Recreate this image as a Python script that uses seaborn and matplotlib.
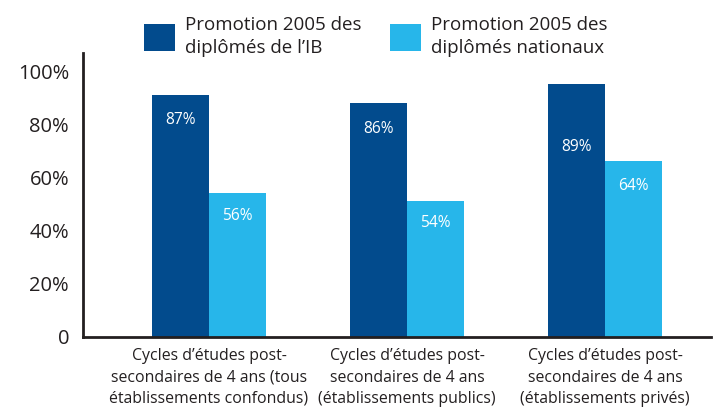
import matplotlib
matplotlib.use("Agg")
import matplotlib.pyplot as plt
from matplotlib.patches import Patch
import seaborn as sns
import pandas as pd

# ---- data ----
categories = [
    "Cycles d’études post-\nsecondaires de 4 ans (tous\nétablissements confondus)",
    "Cycles d’études post-\nsecondaires de 4 ans\n(établissements publics)",
    "Cycles d’études post-\nsecondaires de 4 ans\n(établissements privés)",
]
series = ["Promotion 2005 des\ndiplômés de l’IB", "Promotion 2005 des\ndiplômés nationaux"]
# bar heights as drawn in the picture (measured against the axis)
ib_heights = [91, 88, 95]
nat_heights = [54, 51, 66]
# printed labels on bars
ib_labels = ["87%", "86%", "89%"]
nat_labels = ["56%", "54%", "64%"]
yticks = [0, 20, 40, 60, 80, 100]
ytick_labels = ["0", "20%", "40%", "60%", "80%", "100%"]

df = pd.DataFrame({
    "cat": categories * 2,
    "series": [series[0]] * 3 + [series[1]] * 3,
    "value": ib_heights + nat_heights,
})

DARK = "#024B8D"
LIGHT = "#27B6EA"
TXT = "#231F20"

sns.set_theme(style="white")
plt.rcParams["font.family"] = ["Open Sans", "DejaVu Sans"]

fig = plt.figure(figsize=(7.28, 4.09), dpi=100)
ax = fig.add_axes([83 / 728, 1 - 337 / 409, (711 - 83) / 728, (337 - 53) / 409])

sns.barplot(data=df, x="cat", y="value", hue="series", palette=[DARK, LIGHT],
            width=0.576, saturation=1, linewidth=0, ax=ax, legend=False)

ax.set_xlim(-0.636, 2.535)
ax.set_ylim(0, 106.8)
ax.set_yticks(yticks)
ax.set_yticklabels(ytick_labels, fontsize=14.5, color=TXT)
ax.set_xlabel("")
ax.set_ylabel("")
ax.tick_params(axis="y", length=0, pad=10)
ax.tick_params(axis="x", length=0, pad=8)
for lbl in ax.get_xticklabels():
    lbl.set_fontsize(11.4)
    lbl.set_color(TXT)
    lbl.set_linespacing(1.45)

for s in ["top", "right"]:
    ax.spines[s].set_visible(False)
for s in ["left", "bottom"]:
    ax.spines[s].set_color(TXT)
    ax.spines[s].set_linewidth(2)

# bar labels (pixel offsets below bar top)
offsets_ib = [25, 26, 63]
offsets_nat = [23, 22, 25]
for cont, labels, offs in zip(ax.containers, [ib_labels, nat_labels], [offsets_ib, offsets_nat]):
    for bar, lab, off in zip(cont, labels, offs):
        ax.annotate(lab, (bar.get_x() + bar.get_width() / 2, bar.get_height()),
                    xytext=(0, -off * 0.72), textcoords="offset points",
                    ha="center", va="center", color="white", fontsize=11.2)

handles = [Patch(facecolor=DARK, edgecolor="none"), Patch(facecolor=LIGHT, edgecolor="none")]
leg = fig.legend(handles, series, loc="upper left", bbox_to_anchor=(144 / 728, 1 - 16 / 409),
                 ncol=2, frameon=False, fontsize=13.5, handlelength=1.65, handleheight=1.8,
                 handletextpad=0.55, columnspacing=1.5, borderpad=0, borderaxespad=0,
                 labelcolor=TXT)
for t in leg.get_texts():
    t.set_linespacing(1.35)

fig.savefig("out.png", dpi=100)
